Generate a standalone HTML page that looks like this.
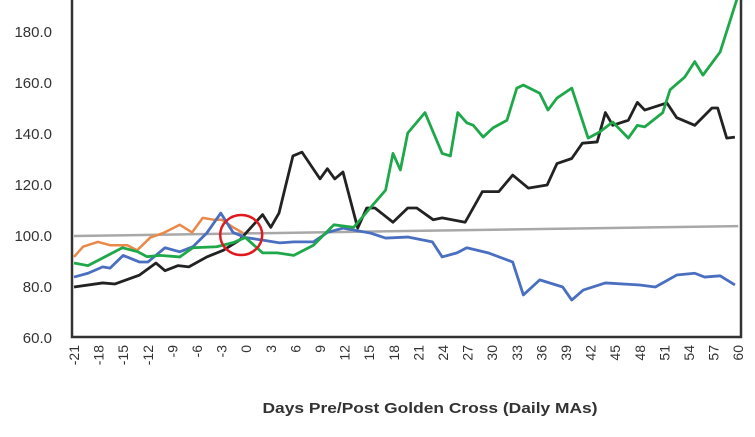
<!DOCTYPE html>
<html><head><meta charset="utf-8"><style>
html,body{margin:0;padding:0;background:#fff;width:755px;height:437px;overflow:hidden}
text{font-family:"Liberation Sans",sans-serif}
</style></head><body>
<svg id="chart" width="755" height="437" xmlns="http://www.w3.org/2000/svg"></svg>
<script>
const blackDays=[-21,-17.5,-16,-13,-11,-9.9,-8.3,-7,-4.8,-2.8,-0.8,2,3,4,5.7,6.8,9,9.9,10.8,11.8,13.6,14.7,15.7,17.9,19.7,20.8,22.8,23.9,26.7,28.8,30.8,32.5,34.4,36.7,37.9,39.7,41,42.8,43.8,44.7,46.6,47.7,48.6,51.3,52.5,54.7,56.8,57.5,58.6,59.6];
const blackVals=[79.6,81.2,80.8,84.3,89,86,88,87.5,91.4,94,98,108,103,108.6,131,132.5,122,126,122,124.7,102.7,110.6,110.6,105,110.6,110.6,106,106.7,105,117,117,123.5,118.4,119.6,128,130,136,136.5,148,143,145,152,149,151.8,146,143,149.8,149.8,138,138.4];
const greenDays=[-21,-19.3,-17.5,-15.1,-13.2,-12.1,-10.5,-8.1,-6.5,-3.6,-1.6,-0.1,2,3.8,5.8,8.2,10.7,13.1,15.5,17,17.9,18.8,19.7,21.8,23.9,24.9,25.8,26.9,27.7,28.9,30.1,31.8,33,33.8,35.8,36.8,37.9,39.7,41.7,43.1,44.7,46.6,47.7,48.6,50.8,51.7,53.5,54.7,55.7,57.8,59.6,60];
const greenVals=[89,88,91,95,93.4,91.5,92,91.4,95,95.4,97,99,93,93,92,96,104,103,112,117.6,132,125.5,140,148,132,131,148,144,143,138.4,142,145,157.6,158.8,155.6,149,153.7,157.6,138,140.4,144.3,138,143,142.4,148,157,162,168,162.7,171.8,190,194];
const blueDays=[-21,-19.3,-17.5,-16.6,-15,-13,-12,-9.9,-8.1,-6.5,-4.8,-3.1,-1.6,-0.1,2,4.1,5.8,8.2,9.9,11.8,15.1,17,19.7,22.7,23.9,25.7,26.9,29.5,32.5,33.8,35.8,38.6,39.7,41.1,43.8,48,49.9,52.5,54.7,55.9,57.8,59.6];
const blueVals=[83.5,85,87.5,87,92,89.4,89.4,95,93.4,95.4,100.8,108.6,101,99,98,96.9,97.3,97.3,101,102.7,100.8,98.8,99.2,97.3,91.4,93,95,93,89.4,76.5,82.4,79.6,74.5,78.4,81.2,80.4,79.6,84.3,85,83.5,84,80.4];
const orangeDays=[-21,-19.9,-18.1,-16.6,-14.5,-13.3,-11.7,-10.1,-8.1,-6.6,-5.3,-4,-3,-1.6,-0.4];
const orangeVals=[91.4,95.4,97.3,96,96,94,99,100.8,104,101,106.7,106,106,103,100.8];
const baseDays=[-21,60];
const baseVals=[99.6,103.5];
const yTicks=[60,80,100,120,140,160,180];
const xTicks=[];for(let d=-21;d<=60;d+=3)xTicks.push(d);

const NS="http://www.w3.org/2000/svg";
const svg=document.getElementById('chart');
const X=d=>74+(d+21)*8.2;
const Y=v=>235-(v-100)*2.55;
function el(tag,attrs,parent){const e=document.createElementNS(NS,tag);for(const k in attrs)e.setAttribute(k,attrs[k]);(parent||svg).appendChild(e);return e;}

const axes=el('path',{d:'M72,0 L72,337 L741,337 L741,0',fill:'none',stroke:'#333','stroke-width':2.5});



yTicks.forEach(v=>{
  const t=el('text',{x:52,y:Y(v)+6,'text-anchor':'end','font-size':15,fill:'#333'});
  t.textContent=v.toFixed(1);
  
  
});
xTicks.forEach(d=>{
  const t=el('text',{transform:`translate(${X(d)+5},345) rotate(-90)`,'text-anchor':'end','font-size':14,fill:'#333'});
  t.textContent=String(d);
  
  
});

function line(days,vals,color,name,w){
  const p=el('polyline',{points:days.map((d,i)=>X(d)+','+Y(vals[i])).join(' '),fill:'none',stroke:color,'stroke-width':w,'stroke-linejoin':'round'});
  
  
}
line(baseDays,baseVals,'#a8a8a8','baseline-100',2.5);
line(orangeDays,orangeVals,'#e8894a','series-orange',2.5);
line(blackDays,blackVals,'#222','series-black',2.8);
line(blueDays,blueVals,'#4a6fc0','series-blue',2.8);
line(greenDays,greenVals,'#1fa84a','series-green',2.8);

const c=el('ellipse',{cx:X(0)-5,cy:Y(100),rx:21,ry:20,fill:'none',stroke:'#e0191e','stroke-width':2.5});



const title=el('text',{x:430,y:413,'text-anchor':'middle','font-size':15,'font-weight':'bold',fill:'#333',textLength:335,lengthAdjust:'spacingAndGlyphs'});
title.textContent='Days Pre/Post Golden Cross (Daily MAs)';


</script>
</body></html>
